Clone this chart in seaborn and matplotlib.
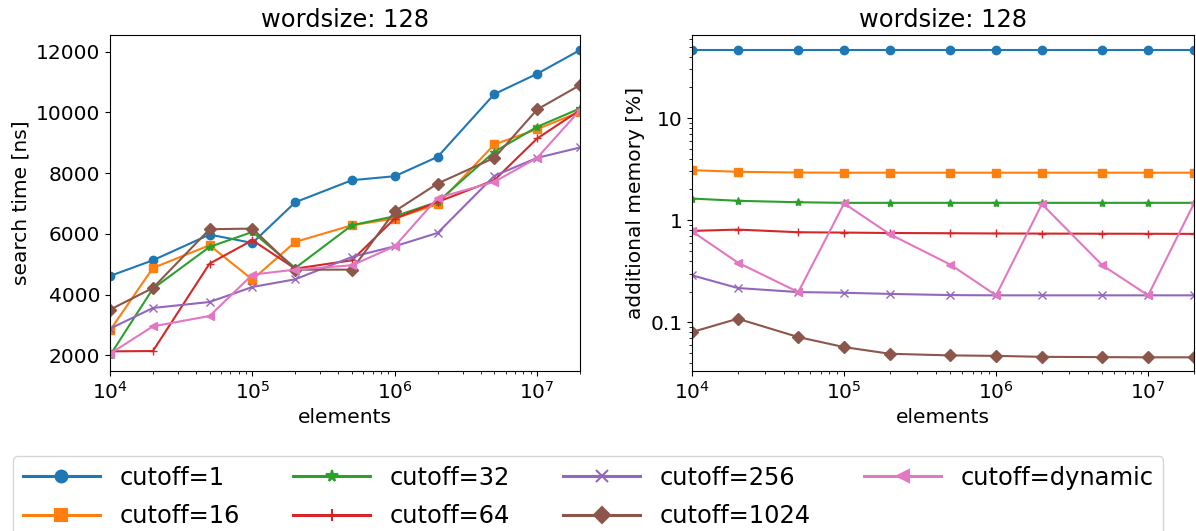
import matplotlib
matplotlib.use("Agg")
import matplotlib.pyplot as plt
from matplotlib.lines import Line2D
from matplotlib.ticker import FuncFormatter
import seaborn as sns
import pandas as pd

elements = [1e4, 2e4, 5e4, 1e5, 2e5, 5e5, 1e6, 2e6, 5e6, 1e7, 2e7]
cutoffs = ["cutoff=1", "cutoff=16", "cutoff=32", "cutoff=64",
           "cutoff=256", "cutoff=1024", "cutoff=dynamic"]

# search time [ns]
time_1 = [4616, 5132, 5978, 5703, 7044, 7770, 7901, 8539, 10605, 11275, 12056]
time_16 = [2824, 4879, 5627, 4495, 5737, 6286, 6506, 6978, 8946, 9451, 10023]
time_32 = [2000, 4198, 5572, 6066, 4879, 6286, 6583, 7055, 8704, 9528, 10133]
time_64 = [2132, 2143, 5022, 5792, 4857, 5132, 6506, 7055, 7770, 9144, 10078]
time_256 = [2879, 3561, 3758, 4253, 4506, 5242, 5594, 6033, 7913, 8506, 8847]
time_1024 = [3506, 4220, 6154, 6176, 4824, 4824, 6748, 7660, 8506, 10100, 10902]
time_dyn = [2055, 2956, 3297, 4660, 4824, 4967, 5594, 7187, 7715, 8506, 10078]

# additional memory [%]
mem_1 = [46.4, 46.4, 46.4, 46.4, 46.4, 46.4, 46.4, 46.4, 46.4, 46.4, 46.4]
mem_16 = [3.09, 2.98, 2.93, 2.92, 2.92, 2.92, 2.92, 2.92, 2.92, 2.92, 2.92]
mem_32 = [1.63, 1.55, 1.50, 1.48, 1.48, 1.48, 1.48, 1.48, 1.48, 1.48, 1.48]
mem_64 = [0.786, 0.81, 0.763, 0.757, 0.75, 0.746, 0.742, 0.74, 0.738, 0.737, 0.735]
mem_256 = [0.289, 0.217, 0.198, 0.195, 0.19, 0.185, 0.184, 0.184, 0.184, 0.184, 0.184]
mem_1024 = [0.0804, 0.1086, 0.0718, 0.0573, 0.0493, 0.0475, 0.047, 0.046, 0.0457, 0.0455, 0.0455]
mem_dyn = [0.78, 0.385, 0.198, 1.46, 0.73, 0.368, 0.184, 1.44, 0.362, 0.184, 1.46]

times = [time_1, time_16, time_32, time_64, time_256, time_1024, time_dyn]
mems = [mem_1, mem_16, mem_32, mem_64, mem_256, mem_1024, mem_dyn]

rows = []
for name, t, m in zip(cutoffs, times, mems):
    for e, tv, mv in zip(elements, t, m):
        rows.append({"elements": e, "cutoff": name, "time": tv, "memory": mv})
df = pd.DataFrame(rows)

plt.rcParams["font.size"] = 14.5
palette = sns.color_palette("tab10", 7)
markers = ["o", "s", "*", "+", "x", "D", "<"]

fig = plt.figure(figsize=(11.96, 5.31), dpi=100)
ax1 = fig.add_axes([0.092, 0.301, 0.393, 0.633])
ax2 = fig.add_axes([0.5786, 0.301, 0.4197, 0.633])

for ax, col in [(ax1, "time"), (ax2, "memory")]:
    for name, c, m in zip(cutoffs, palette, markers):
        sub = df[df["cutoff"] == name]
        sns.lineplot(data=sub, x="elements", y=col, color=c, marker=m,
                     markersize=6, linewidth=1.5, ax=ax)
    for line in ax.lines:
        line.set_markeredgecolor(line.get_color())
        line.set_markeredgewidth(1.0)
    ax.set_xscale("log")
    ax.set_xlim(1e4, 2e7)
    ax.set_xlabel("elements")
    ax.set_title("wordsize: 128", fontsize="large")

ax1.set_ylim(1480, 12550)
ax1.set_yticks([2000, 4000, 6000, 8000, 10000, 12000])
ax1.set_ylabel("search time [ns]")

ax2.set_yscale("log")
ax2.set_ylim(0.0333, 65)
ax2.yaxis.set_major_formatter(FuncFormatter(lambda v, p: f"{v:g}"))
ax2.set_ylabel("additional memory [%]")

handles = [Line2D([], [], color=c, marker=m, lw=2.2, ms=8.5, mew=1.5,
                  mec=c) for c, m in zip(palette, markers)]
fig.legend(handles, cutoffs, loc="upper left", bbox_to_anchor=(0.0109, 0.1412),
           ncol=4, fontsize="large", handlelength=3.2, columnspacing=2.2,
           labelspacing=0.6, borderaxespad=0)

fig.savefig("out.png", dpi=100)
